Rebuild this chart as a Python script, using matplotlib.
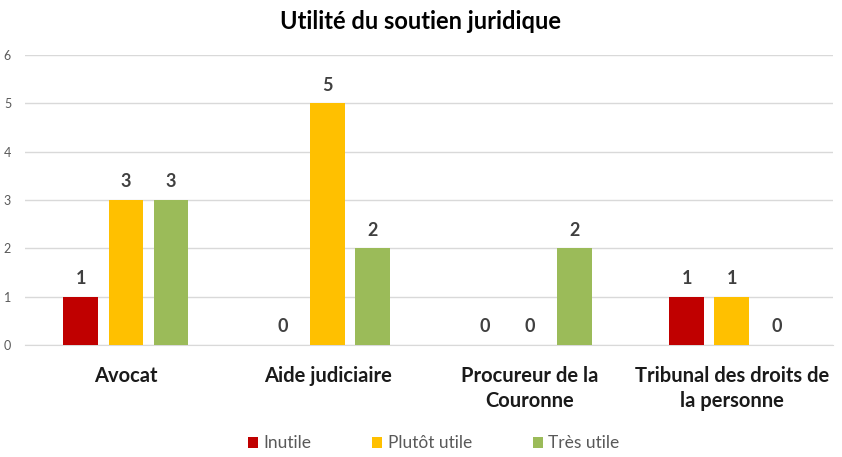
import numpy as np
import matplotlib.pyplot as plt

plt.rcParams['font.family'] = ['Lato', 'DejaVu Sans']

categories = ['Avocat', 'Aide judiciaire', 'Procureur de la\nCouronne', 'Tribunal des droits de\nla personne']
series = ['Inutile', 'Plutôt utile', 'Très utile']
inutile = [1, 0, 0, 1]
plutot_utile = [3, 5, 0, 1]
tres_utile = [3, 2, 2, 0]
colors = ['#C00000', '#FFC000', '#9BBB59']

valeurs = [inutile, plutot_utile, tres_utile]

fig = plt.figure(figsize=(8.42, 4.57), dpi=100)
ax = fig.add_axes([0.0297, 0.245, 0.9593, 0.635])

x = np.arange(len(categories))
largeur = 0.173
pas = 0.223
for i, (nom, vals, c) in enumerate(zip(series, valeurs, colors)):
    pos = x + (i - 1) * pas
    ax.bar(pos, vals, width=largeur, color=c, label=nom, zorder=3)
    for p, v in zip(pos, vals):
        ax.text(p, v + 0.2, str(v), ha='center', va='bottom', fontsize=13,
                fontweight='bold', color='#404040')

ax.set_xlim(-0.5, len(categories) - 0.5)
ax.set_ylim(0, 6)
ax.set_yticks(range(0, 7))
ax.tick_params(axis='y', length=0, labelsize=9, labelcolor='#595959', pad=10)
ax.tick_params(axis='x', length=0, pad=15)
ax.set_xticks(x)
ax.set_xticklabels(categories, fontsize=14.5, fontweight='bold', color='#1a1a1a',
                   linespacing=1.3)
ax.grid(axis='y', color='#D9D9D9', linewidth=1, zorder=0)
for s in ['top', 'right', 'left']:
    ax.spines[s].set_visible(False)
ax.spines['bottom'].set_color('#D9D9D9')

fig.text(0.5, 0.952, 'Utilité du soutien juridique', ha='center', va='center',
         fontsize=17, fontweight='bold', color='#000000')

fig.legend(loc='center', bbox_to_anchor=(0.515, 0.03), ncol=3, frameon=False,
           fontsize=12.5, handlelength=0.6, handleheight=0.6, columnspacing=3.5,
           handletextpad=0.3, labelcolor='#595959')

fig.savefig('out.png', dpi=100)
